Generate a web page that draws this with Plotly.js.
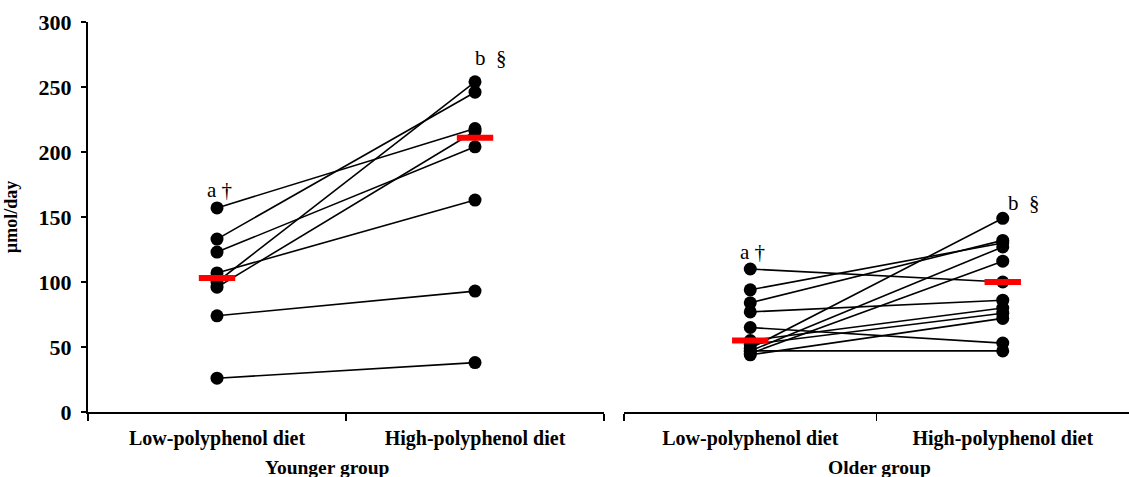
<!DOCTYPE html>
<html>
<head>
<meta charset="utf-8">
<script src="https://cdn.plot.ly/plotly-3.0.1.min.js"></script>
<style>html,body{margin:0;padding:0;background:#fff;}#chart{width:1129px;height:477px;}</style>
</head>
<body>
<div id="chart"></div>
<script>
// ---- data ----
const categories = ["Low-polyphenol diet", "High-polyphenol diet"];
const groupTitles = ["Younger group", "Older group"];
const yTicks = [0, 50, 100, 150, 200, 250, 300];

// Younger group: one value per subject (paired)
const youngLow  = [157, 133, 123, 107, 100, 96, 74, 26];
const youngHigh = [218, 246, 204, 163, 254, 216, 93, 38];
// Older group
const olderLow  = [110, 94, 84, 77, 65, 55, 52, 49, 47, 47, 45, 44];
const olderHigh = [100, 130, 132, 86, 53, 80, 76, 149, 127, 47, 116, 72];

// red group bars (low, high)
const youngBar = [103, 211];
const olderBar = [55, 100];

// significance labels (low, high)
const youngSig = ["a\u00a0†", "b\u00a0\u00a0§"];
const olderSig = ["a\u00a0†", "b\u00a0\u00a0§"];
// ---------------------------------------

const serif = "Liberation Serif, Times New Roman, serif";
const traces = [];
function addGroup(low, high, xa, ya) {
  for (let i = 0; i < low.length; i++) {
    traces.push({
      type: "scatter", mode: "lines+markers",
      x: categories, y: [low[i], high[i]],
      xaxis: xa, yaxis: ya,
      line: {color: "#000", width: 1.6},
      marker: {color: "#000", size: 13},
      hoverinfo: "y", showlegend: false
    });
  }
}
function addBar(vals, xa, ya) {
  traces.push({
    type: "scatter", mode: "markers",
    x: categories, y: vals, xaxis: xa, yaxis: ya,
    marker: {symbol: "line-ew", size: 26, color: "#ff0000",
             line: {color: "#ff0000", width: 6}},
    showlegend: false, hoverinfo: "y"
  });
}
addGroup(youngLow, youngHigh, "x", "y");
addGroup(olderLow, olderHigh, "x2", "y2");
addBar(youngBar, "x", "y");
addBar(olderBar, "x2", "y2");

function sigAnn(labels, data, xref, yref, shifts, xs) {
  const maxLow = Math.max(...data[0]);
  const maxHigh = Math.max(...data[1]);
  return [
    {x: categories[0], y: maxLow, xref: xref, yref: yref, text: labels[0],
     showarrow: false, yshift: shifts[0], xshift: 2,
     font: {family: serif, size: 21, color: "#000"}},
    {x: categories[1], y: maxHigh, xref: xref, yref: yref, text: labels[1],
     showarrow: false, yshift: shifts[1], xshift: xs,
     font: {family: serif, size: 21, color: "#000"}}
  ];
}
function groupTitle(text, xref, xpos) {
  return {text: text, xref: xref + " domain", yref: "paper", x: xpos, y: 0,
          yanchor: "middle", yshift: -55, showarrow: false,
          font: {family: serif, size: 19.5, color: "#000", weight: "bold"}};
}

const xCommon = {
  type: "category", range: [-0.5, 1.5], tickson: "boundaries",
  ticks: "outside", ticklen: 7, tickwidth: 1.5, tickcolor: "#000",
  showline: true, linecolor: "#000", linewidth: 2,
  showgrid: false, zeroline: false, fixedrange: true,
  tickfont: {family: serif, size: 20, color: "#000", weight: "bold"},
  ticklabelstandoff: 7
};

const layout = {
  width: 1129, height: 477,
  margin: {l: 88, r: 0, t: 22, b: 65},
  paper_bgcolor: "#fff", plot_bgcolor: "#fff",
  showlegend: false,
  xaxis: Object.assign({}, xCommon, {domain: [0, 0.4957], anchor: "y"}),
  xaxis2: Object.assign({}, xCommon, {domain: [0.5149, 1], anchor: "y2"}),
  yaxis: {
    range: [0, 300], tickvals: yTicks, ticktext: yTicks.map(String),
    ticks: "outside", ticklen: 5, tickwidth: 1.5, tickcolor: "#000",
    showline: true, linecolor: "#000", linewidth: 2,
    showgrid: false, zeroline: false, fixedrange: true,
    tickfont: {family: serif, size: 22, color: "#000", weight: "bold"},
    ticklabelstandoff: 5,
    title: {text: "µmol/day", standoff: 16,
            font: {family: serif, size: 18, color: "#000", weight: "bold"}}
  },
  yaxis2: {
    range: [0, 300], anchor: "x2", showline: false, showticklabels: false,
    ticks: "", showgrid: false, zeroline: false, fixedrange: true
  },
  annotations: sigAnn(youngSig, [youngLow, youngHigh], "x", "y", [18, 24], 16)
    .concat(sigAnn(olderSig, [olderLow, olderHigh], "x2", "y2", [17, 15], 21))
    .concat([groupTitle(groupTitles[0], "x", 0.465), groupTitle(groupTitles[1], "x2", 0.505)])
};

Plotly.newPlot("chart", traces, layout, {displayModeBar: false, staticPlot: true});
</script>
</body>
</html>
